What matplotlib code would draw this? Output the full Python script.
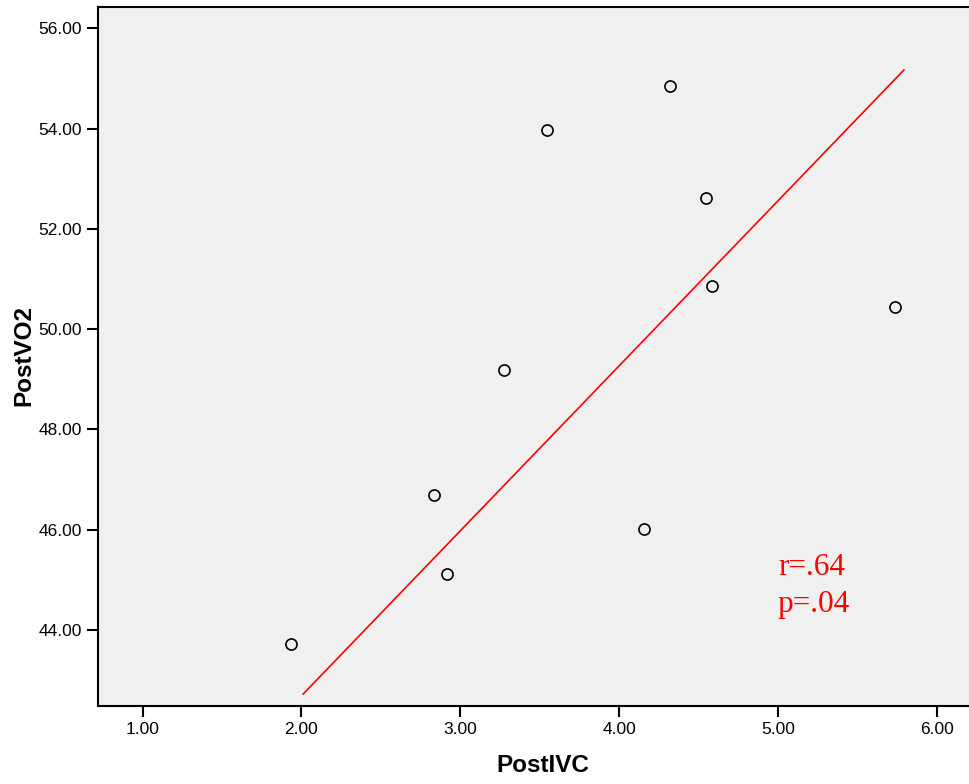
import matplotlib.pyplot as plt

# Data
post_ivc = [1.934, 2.834, 2.916, 3.275, 3.546, 4.319, 4.157, 4.550, 4.587, 5.738]
post_vo2 = [43.72, 46.69, 45.12, 49.19, 53.97, 54.86, 46.01, 52.62, 50.87, 50.44]

# fit line end points as drawn in the figure
fit_x = [2.011, 5.794]
fit_y = [42.72, 55.17]

xticks = [1, 2, 3, 4, 5, 6]
yticks = [44, 46, 48, 50, 52, 54, 56]

plt.rcParams['font.family'] = ['Liberation Sans', 'DejaVu Sans']

fig = plt.figure(figsize=(9.7, 7.84), dpi=100)
ax = fig.add_axes([0.1015, 0.1, 0.8985, 0.891])
ax.set_facecolor('#f0f0f0')

ax.plot(post_ivc, post_vo2, 'o', markersize=8, markerfacecolor='none',
        markeredgecolor='black', markeredgewidth=1.2, zorder=3)
ax.plot(fit_x, fit_y, color='red', linewidth=1.2, zorder=2)

ax.text(5.0, 45.1, "r=.64", color='red', fontsize=22.5,
        family=['Liberation Serif', 'DejaVu Serif'])
ax.text(5.0, 44.36, "p=.04", color='red', fontsize=22.5,
        family=['Liberation Serif', 'DejaVu Serif'])

ax.set_xlim(0.722, 6.21)
ax.set_ylim(42.49, 56.425)
ax.set_xticks(xticks)
ax.set_xticklabels([f"{v:.2f}" for v in xticks])
ax.set_yticks(yticks)
ax.set_yticklabels([f"{v:.2f}" for v in yticks])
ax.tick_params(direction='out', length=8, width=1.5, labelsize=12.5, pad=4)

for side in ['left', 'bottom', 'top']:
    ax.spines[side].set_linewidth(1.5)
ax.spines['right'].set_visible(False)

# axis titles
fig.text(542.5 / 970, 1 - 766 / 784, "PostIVC", fontsize=17.5, fontweight='bold',
         ha='center', va='center')
fig.text(24 / 970, 1 - 355.5 / 784, "PostVO2", fontsize=17.5, fontweight='bold',
         ha='center', va='center', rotation=90)

fig.savefig("out.png", dpi=100)
